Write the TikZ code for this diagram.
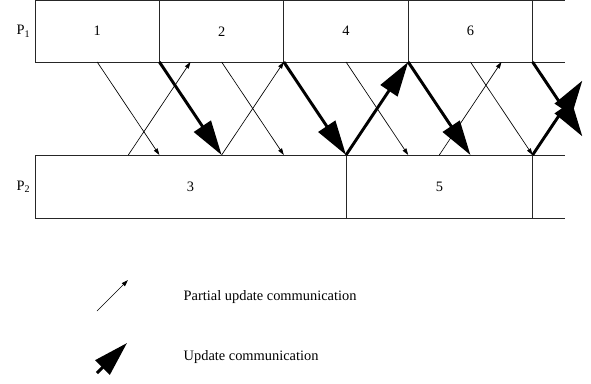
\documentclass[tikz,border=0pt]{standalone}
\usepackage{fontspec}
\setmainfont{Liberation Serif}
\usetikzlibrary{arrows.meta,positioning,calc}

\begin{document}
\begin{tikzpicture}[x=0.75pt, y=-0.75pt,
  font=\fontsize{10.8}{13}\selectfont,
  cell/.style={draw=black!85, line width=0.6pt, inner sep=0pt, outer sep=0pt,
    minimum width=93.3pt, minimum height=46.1pt},
  part/.style={-{Triangle[length=5pt,width=3.2pt]}, line width=0.5pt},
  full/.style={-{Triangle[length=26pt,width=15pt]}, line width=2.2pt}]
\useasboundingbox (0,0) rectangle (591,383);
% processor P1
\node[cell, anchor=north west] (c1) at (35,0.5) {1};
\node[cell, right=0pt of c1] (c2) {2};
\node[cell, right=0pt of c2] (c4) {4};
\node[cell, right=0pt of c4] (c6) {6};
\draw[black!85, line width=0.6pt] (c6.north east) -- ++(32,0);
\draw[black!85, line width=0.6pt] (c6.south east) -- ++(32,0);
\node[left=0pt of c1] (p1) {P\textsubscript{1}};
% processor P2
\node[cell, anchor=north west, minimum width=233.3pt, minimum height=47.25pt] (c3) at (35,155) {3};
\node[cell, right=0pt of c3, minimum width=140pt, minimum height=47.25pt] (c5) {5};
\draw[black!85, line width=0.6pt] (c5.north east) -- ++(32,0);
\draw[black!85, line width=0.6pt] (c5.south east) -- ++(32,0);
\node[left=0pt of c3] (p2) {P\textsubscript{2}};
% send / receive points
\foreach \q in {0,...,18} {
  \coordinate (a\q) at ($(c1.south west)+(31.1*\q,0)$);
  \coordinate (b\q) at ($(c3.north west)+(31.1*\q,0)$);
}
\coordinate (e1) at ($(a16)!0.8!(b18)$);
\coordinate (e2) at ($(b16)!0.8!(a18)$);
% partial updates
\draw[part] (a2) -- (b4);
\draw[part] (b3) -- (a5);
\draw[part] (a6) -- (b8);
\draw[part] (b6) -- (a8);
\draw[part] (a10) -- (b12);
\draw[part] (b13) -- (a15);
\draw[part] (a14) -- (b16);
% updates
\draw[full] (a4) -- (b6);
\draw[full] (a8) -- (b10);
\draw[full] (b10) -- (a12);
\draw[full] (a12) -- (b14);
\draw[full] (a16) -- (e1);
\draw[full] (b16) -- (e2);
% legend
\coordinate (k1) at (97,311);
\coordinate (k2) at (128,280);
\draw[part] (k1) -- (k2);
\node[anchor=west] (t1) at (179,297) {Partial update communication};
\coordinate (k3) at (97,373);
\coordinate (k4) at (127,343);
\draw[full] (k3) -- (k4);
\node[anchor=west] (t2) at (179,357) {Update communication};
\end{tikzpicture}
\end{document}
